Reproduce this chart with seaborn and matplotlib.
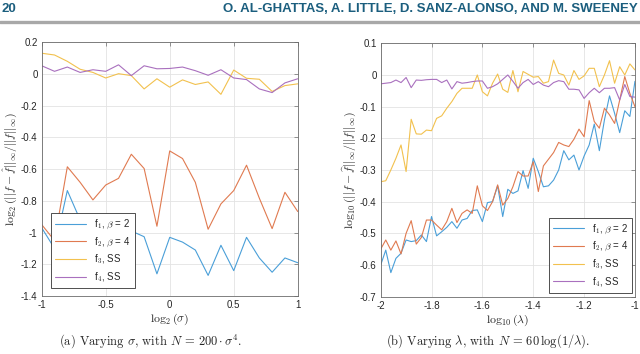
import numpy as np
import pandas as pd
import matplotlib
matplotlib.use("Agg")
import matplotlib.pyplot as plt
from matplotlib.ticker import FuncFormatter
import seaborn as sns

# ---- data ----
sigma_x = np.round(np.arange(-1.0, 1.0001, 0.1), 2)
sigma_f1 = [-0.97, -1.10, -0.735, -0.92, -0.97, -0.94, -0.95, -0.99, -1.026, -1.26, -1.03,
            -1.06, -1.11, -1.27, -1.08, -1.24, -1.03, -1.16, -1.25, -1.16, -1.19]
sigma_f2 = [-0.95, -1.05, -0.585, -0.683, -0.794, -0.70, -0.658, -0.506, -0.596, -0.96, -0.485,
            -0.533, -0.683, -0.979, -0.819, -0.735, -0.575, -0.783, -0.975, -0.746, -0.867]
sigma_f3 = [0.131, 0.12, 0.08, 0.03, 0.01, -0.025, 0.002, -0.01, -0.094, -0.03, -0.083,
            -0.037, -0.066, -0.05, -0.128, 0.025, -0.027, -0.033, -0.11, -0.073, -0.062]
sigma_f4 = [0.052, 0.017, 0.044, 0.01, 0.027, 0.017, 0.058, -0.01, 0.052, 0.033, 0.035,
            0.044, 0.021, -0.008, 0.027, -0.025, -0.035, -0.094, -0.117, -0.056, -0.03]

lam_x = np.round(np.arange(-2.0, -0.9999, 0.02), 2)
lam_f1 = [-0.60, -0.553, -0.624, -0.579, -0.563, -0.521, -0.526, -0.523, -0.505, -0.526,
          -0.447, -0.508, -0.495, -0.481, -0.463, -0.484, -0.458, -0.453, -0.428, -0.426,
          -0.463, -0.403, -0.40, -0.35, -0.447, -0.361, -0.374, -0.366, -0.302, -0.358,
          -0.263, -0.305, -0.353, -0.35, -0.332, -0.30, -0.239, -0.268, -0.253, -0.30,
          -0.256, -0.221, -0.155, -0.239, -0.142, -0.066, -0.121, -0.182, -0.113, -0.131,
          -0.02]
lam_f2 = [-0.55, -0.521, -0.553, -0.524, -0.565, -0.50, -0.46, -0.534, -0.513, -0.458,
          -0.458, -0.474, -0.489, -0.463, -0.421, -0.466, -0.437, -0.426, -0.437, -0.35,
          -0.413, -0.428, -0.40, -0.347, -0.411, -0.39, -0.353, -0.305, -0.319, -0.319,
          -0.274, -0.368, -0.287, -0.266, -0.245, -0.213, -0.221, -0.226, -0.203, -0.171,
          -0.195, -0.081, -0.147, -0.168, -0.105, -0.126, -0.153, -0.079, -0.005, -0.058,
          -0.10]
lam_f3 = [-0.337, -0.334, -0.30, -0.263, -0.221, -0.305, -0.14, -0.186, -0.187, -0.174,
          -0.176, -0.137, -0.129, -0.105, -0.084, -0.058, -0.042, -0.042, -0.042, 0.0,
          -0.053, -0.066, -0.026, 0.003, -0.045, -0.055, 0.014, -0.053, 0.011, 0.002,
          -0.007, -0.005, -0.026, -0.021, 0.047, 0.005, 0.0, -0.032, 0.014, -0.014,
          -0.003, 0.021, 0.021, -0.037, 0.0, 0.045, -0.026, 0.026, 0.0, 0.035,
          0.016]
lam_f4 = [-0.028, -0.026, -0.024, -0.016, -0.024, -0.008, -0.04, -0.016, -0.017, -0.015,
          -0.014, -0.014, -0.024, -0.016, -0.044, -0.021, -0.026, -0.024, -0.021, -0.019,
          -0.019, -0.042, -0.037, -0.028, -0.014, 0.0, -0.02, -0.042, -0.024, -0.014,
          -0.03, -0.021, -0.032, -0.037, -0.024, -0.018, -0.021, -0.045, -0.045, -0.047,
          -0.074, -0.056, -0.042, -0.056, -0.042, -0.042, -0.04, -0.079, -0.03, -0.068,
          -0.07]

labels = [r"f$_1$, $\beta$ = 2", r"f$_2$, $\beta$ = 4", "f$_3$, SS", "f$_4$, SS"]
colors = ["#4a9fd8", "#e07a50", "#f2c14e", "#a970be"]

sns.set_theme(style="whitegrid")
plt.rcParams["font.family"] = ["Liberation Sans", "DejaVu Sans"]
plt.rcParams["mathtext.fontset"] = "cm"
plt.rcParams["axes.unicode_minus"] = False


def long_frame(x, series):
    parts = [pd.DataFrame({"x": x, "y": s, "series": lab}) for s, lab in zip(series, labels)]
    return pd.concat(parts, ignore_index=True)


def style_axes(ax, xlim, ylim, xticks, yticks):
    ax.set_xlim(*xlim)
    ax.set_ylim(*ylim)
    ax.set_xticks(xticks)
    ax.set_yticks(yticks)
    fmt = FuncFormatter(lambda v, _: f"{round(v, 6) + 0.0:g}")
    ax.xaxis.set_major_formatter(fmt)
    ax.yaxis.set_major_formatter(fmt)
    ax.grid(True, color="#e3e3e3", linewidth=0.6)
    for sp in ax.spines.values():
        sp.set_color("#6b6b6b")
        sp.set_linewidth(0.6)
    ax.tick_params(direction="in", length=3, width=0.5, color="#6b6b6b",
                   labelsize=7, pad=3, top=True, right=True, labelcolor="#262626")


def add_legend(ax, loc, anchor):
    leg = ax.legend(loc=loc, bbox_to_anchor=anchor, fontsize=7, frameon=True,
                    fancybox=False, edgecolor="#333333", framealpha=1, handlelength=3.2,
                    labelspacing=0.45, borderpad=0.45, borderaxespad=0)
    leg.get_frame().set_linewidth(0.6)


fig = plt.figure(figsize=(6.4, 3.54), dpi=100)
ax1 = fig.add_axes([0.0652, 0.1638, 0.400, 0.7167])
ax2 = fig.add_axes([0.5948, 0.1619, 0.3973, 0.7158])

df1 = long_frame(sigma_x, [sigma_f1, sigma_f2, sigma_f3, sigma_f4])
sns.lineplot(data=df1, x="x", y="y", hue="series", palette=colors, linewidth=0.8, ax=ax1)
style_axes(ax1, (-1, 1), (-1.4, 0.2), [-1, -0.5, 0, 0.5, 1], np.round(np.arange(-1.4, 0.21, 0.2), 1))
ax1.set_xlabel(r"$\log_2(\sigma)$", fontsize=8.5, labelpad=1)
ax1.set_ylabel(r"$\log_2(||f-\hat{f}||_\infty/||f||_\infty)$", fontsize=8.5, labelpad=1)
add_legend(ax1, "lower left", (0.035, 0.03))

df2 = long_frame(lam_x, [lam_f1, lam_f2, lam_f3, lam_f4])
sns.lineplot(data=df2, x="x", y="y", hue="series", palette=colors, linewidth=0.8, ax=ax2)
style_axes(ax2, (-2, -1), (-0.7, 0.1), [-2, -1.8, -1.6, -1.4, -1.2, -1], np.round(np.arange(-0.7, 0.11, 0.1), 1))
ax2.set_xlabel(r"$\log_{10}(\lambda)$", fontsize=8.5, labelpad=1)
ax2.set_ylabel(r"$\log_{10}(||f-\widehat{f}||_\infty/||f||_\infty)$", fontsize=8.5, labelpad=1)
add_legend(ax2, "lower right", (0.99, 0.015))

# page header and captions
fig.text(0.003, 0.975, "20", ha="left", va="center", fontsize=9.5, fontweight="bold", color="#1b5e7e")
fig.text(0.997, 0.975, "O. AL-GHATTAS, A. LITTLE, D. SANZ-ALONSO, AND M. SWEENEY",
         ha="right", va="center", fontsize=9.5, fontweight="bold", color="#1b5e7e")
fig.add_artist(plt.Line2D([0, 1], [0.938, 0.938], transform=fig.transFigure,
                          color="#a8a8a8", linewidth=2.4))
fig.text(0.235, 0.037, r"(a) Varying $\sigma$, with $N\,=\,200\cdot\sigma^4$.", ha="center",
         va="center", fontsize=9, family="cmr10")
fig.text(0.763, 0.037, r"(b) Varying $\lambda$, with $N\,=\,60\,\log(1/\lambda)$.", ha="center",
         va="center", fontsize=9, family="cmr10")

fig.savefig("out.png", dpi=100)
